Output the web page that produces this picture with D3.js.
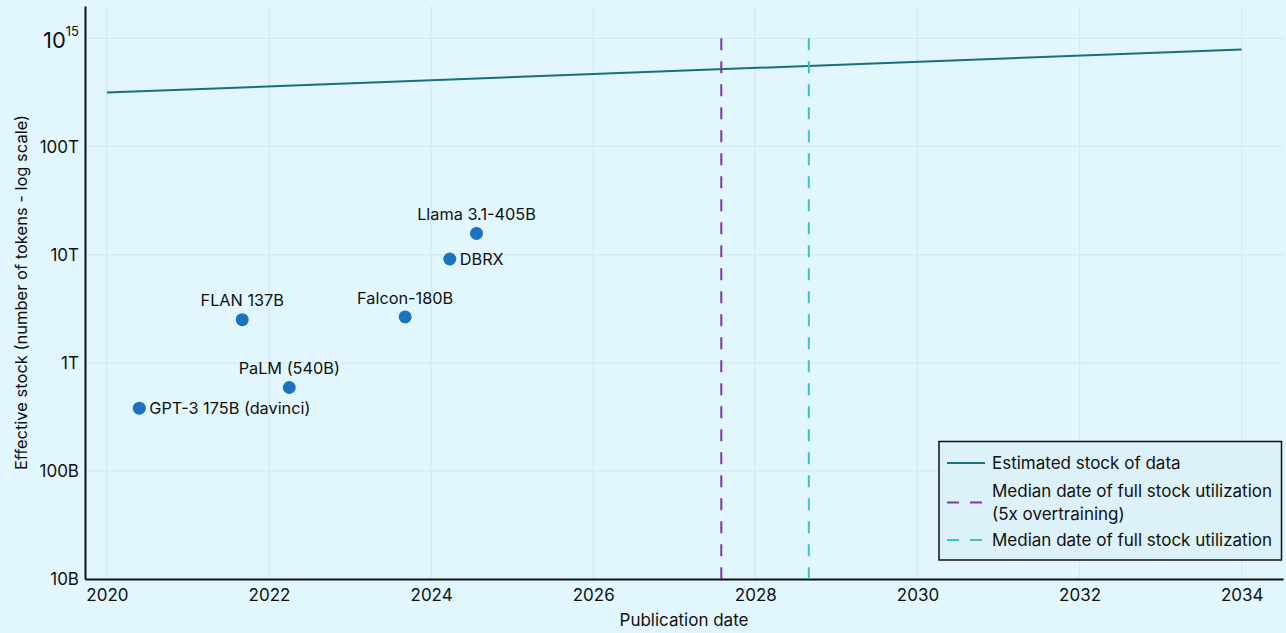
<!DOCTYPE html>
<html>
<head>
<meta charset="utf-8">
<script src="https://cdn.jsdelivr.net/npm/d3@7"></script>
<style>
  html, body { margin: 0; padding: 0; background: #e1f6fd; }
  svg { display: block; }
  text { font-family: Inter, "Noto Sans", sans-serif; fill: #111; }
</style>
</head>
<body>
<svg id="chart" width="1286" height="633"></svg>
<script>
// ---- data ----
const modelNames = ["GPT-3 175B (davinci)", "PaLM (540B)", "FLAN 137B", "Falcon-180B", "DBRX", "Llama 3.1-405B"];
const modelDates = [2020.40, 2022.25, 2021.67, 2023.68, 2024.23, 2024.56];
const modelTokens = [3.8e11, 5.9e11, 2.5e12, 2.65e12, 9.1e12, 1.57e13];
const labelPlacement = ["right", "above", "above", "above", "right", "above"];

const stockYears = [2020, 2034];
const stockValues = [3.15e14, 7.9e14];

const medianDate5x = 2027.58;
const medianDate = 2028.66;

const xTickValues = [2020, 2022, 2024, 2026, 2028, 2030, 2032, 2034];
const yTickValues = [1e10, 1e11, 1e12, 1e13, 1e14, 1e15];
const yTickLabels = ["10B", "100B", "1T", "10T", "100T", "10^15"];

const legendLabels = [["Estimated stock of data"], ["Median date of full stock utilization", "(5x overtraining)"], ["Median date of full stock utilization"]];

// ---- layout ----
const svg = d3.select("#chart");
const W = 1286, H = 633;
const m = { left: 85, right: 3, top: 6, bottom: 54 };
const pw = W - m.left - m.right, ph = H - m.top - m.bottom;

const colors = { stock: "#17707a", p5x: "#7b3a9c", pmed: "#35c6c2", point: "#1b73bf", grid: "#d2eaf2" };

const x = d3.scaleLinear().domain([2019.73, 2034.51]).range([m.left, m.left + pw]);
const y = d3.scaleLog().domain([1e10, 1.99e15]).range([m.top + ph, m.top]);

// grid
const g = svg.append("g");
g.selectAll(".vg").data(xTickValues).join("line")
  .attr("x1", d => x(d)).attr("x2", d => x(d))
  .attr("y1", m.top).attr("y2", m.top + ph)
  .attr("stroke", colors.grid).attr("stroke-width", 1.2);
g.selectAll(".hg").data(yTickValues.slice(1)).join("line")
  .attr("x1", m.left).attr("x2", m.left + pw)
  .attr("y1", d => y(d)).attr("y2", d => y(d))
  .attr("stroke", colors.grid).attr("stroke-width", 1.2);

// axes
const xAxis = d3.axisBottom(x).tickValues(xTickValues).tickFormat(d3.format("d")).tickSize(0).tickPadding(10);
const xg = svg.append("g").attr("transform", `translate(0,${m.top + ph})`).call(xAxis);
xg.select(".domain").attr("stroke", "#111").attr("stroke-width", 2);
xg.selectAll("text").attr("font-size", 17).attr("fill", "#111").attr("font-family", "Inter, sans-serif");

const yAxis = d3.axisLeft(y).tickValues(yTickValues).tickFormat("").tickSize(0);
const yg = svg.append("g").attr("transform", `translate(${m.left},0)`).call(yAxis);
yg.select(".domain").attr("stroke", "#111").attr("stroke-width", 2);
yg.selectAll(".tick").each(function(d, i) {
  const t = d3.select(this).append("text")
    .attr("x", -6).attr("dy", "0.35em").attr("text-anchor", "end")
    .attr("font-size", 17).attr("fill", "#111");
  const lab = yTickLabels[i];
  if (lab.indexOf("^") >= 0) {
    const parts = lab.split("^");
    t.attr("font-size", 22).attr("dy", "0.4em").text(parts[0]);
    t.append("tspan").attr("font-size", 13).attr("dy", "-0.9em").text(parts[1]);
  } else {
    t.text(lab);
  }
});

// axis titles
svg.append("text").attr("x", m.left + pw / 2).attr("y", 626).attr("text-anchor", "middle")
  .attr("font-size", 17).text("Publication date");
svg.append("text").attr("transform", `translate(27,${m.top + ph / 2}) rotate(-90)`)
  .attr("text-anchor", "middle").attr("font-size", 16.5)
  .text("Effective stock (number of tokens - log scale)");

// stock line
const line = d3.line().x(d => x(d[0])).y(d => y(d[1]));
svg.append("path").datum(stockYears.map((d, i) => [d, stockValues[i]]))
  .attr("d", line).attr("fill", "none").attr("stroke", colors.stock).attr("stroke-width", 2);

// median dashed lines
[[medianDate5x, colors.p5x], [medianDate, colors.pmed]].forEach(([d, c]) => {
  svg.append("line").attr("x1", x(d)).attr("x2", x(d))
    .attr("y1", y(1e15)).attr("y2", m.top + ph)
    .attr("stroke", c).attr("stroke-width", 2).attr("stroke-dasharray", "12,11");
});

// points
const pts = modelNames.map((n, i) => ({ n, d: modelDates[i], v: modelTokens[i], p: labelPlacement[i] }));
svg.selectAll(".pt").data(pts).join("circle")
  .attr("cx", d => x(d.d)).attr("cy", d => y(d.v)).attr("r", 6.5).attr("fill", colors.point);
svg.selectAll(".pl").data(pts).join("text")
  .attr("x", d => d.p === "right" ? x(d.d) + 10 : x(d.d))
  .attr("y", d => d.p === "right" ? y(d.v) : y(d.v) - 19)
  .attr("dy", "0.35em")
  .attr("text-anchor", d => d.p === "right" ? "start" : "middle")
  .attr("font-size", 16.3).text(d => d.n);

// legend
const lg = svg.append("g");
lg.append("rect").attr("x", 939).attr("y", 441.5).attr("width", 342.5).attr("height", 118.5)
  .attr("fill", "#dcf1f8").attr("stroke", "#111").attr("stroke-width", 1.5);
const legendItems = [
  { c: colors.stock, dash: null, rows: legendLabels[0], y0: 463 },
  { c: colors.p5x, dash: "12,11", rows: legendLabels[1], y0: 491 },
  { c: colors.pmed, dash: "12,11", rows: legendLabels[2], y0: 540 }
];
legendItems.forEach(it => {
  const sy = it.y0 + (it.rows.length - 1) * 23 / 2;
  lg.append("line").attr("x1", 947).attr("x2", 985).attr("y1", sy).attr("y2", sy)
    .attr("stroke", it.c).attr("stroke-width", 2).attr("stroke-dasharray", it.dash);
  it.rows.forEach((r, j) => {
    lg.append("text").attr("x", 992).attr("y", it.y0 + j * 23).attr("dy", "0.35em")
      .attr("font-size", 17).text(r);
  });
});
</script>
</body>
</html>
